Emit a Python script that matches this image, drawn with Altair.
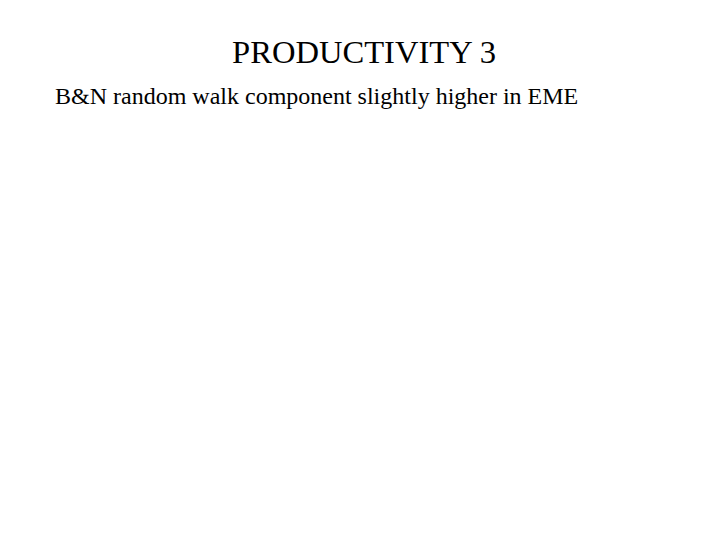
import altair as alt
import pandas as pd

title_lines = ["PRODUCTIVITY 3"]
bullet_lines = ["B&N random walk component slightly higher in EME"]

df_title = pd.DataFrame({"text": title_lines})
df_bullet = pd.DataFrame({"text": bullet_lines})

title = alt.Chart(df_title).mark_text(
    font="Liberation Serif", fontSize=32.6, align="center",
    baseline="alphabetic", color="black"
).encode(text="text:N", x=alt.value(356), y=alt.value(54.5))

bullet = alt.Chart(df_bullet).mark_text(
    font="Liberation Serif", fontSize=24, align="left",
    baseline="alphabetic", color="black"
).encode(text="text:N", x=alt.value(47), y=alt.value(96))

chart = alt.layer(title, bullet).properties(
    width=704, height=520, padding=0, background="white",
    autosize=alt.AutoSizeParams(type="fit", contains="padding")
).configure_view(stroke=None)

chart.save("out.html", embed_options={"renderer": "svg", "actions": False})
